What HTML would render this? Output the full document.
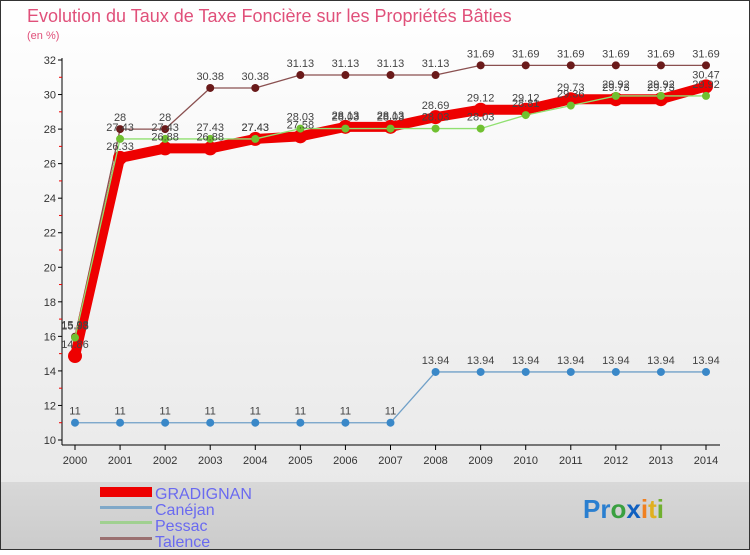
<!DOCTYPE html>
<html><head><meta charset="utf-8"><style>
body{margin:0;width:750px;height:550px;overflow:hidden;font-family:"Liberation Sans",sans-serif}
</style></head><body>
<svg width="750" height="550" id="c" xmlns="http://www.w3.org/2000/svg">
<defs>
<linearGradient id="bg" x1="0" y1="0" x2="0" y2="1"><stop offset="0" stop-color="#ffffff"/><stop offset="1" stop-color="#e6e6e6"/></linearGradient>
<linearGradient id="lg" x1="0" y1="0" x2="0" y2="1"><stop offset="0" stop-color="#d8d8d8"/><stop offset="1" stop-color="#cbcbcb"/></linearGradient>
</defs>
<rect x="0" y="0" width="750" height="550" fill="url(#bg)"/>
<rect x="0" y="482" width="750" height="68" fill="url(#lg)"/>
<rect x="0.5" y="0.5" width="749" height="549" fill="none" stroke="#333"/>
<text x="27" y="22" font-size="18" fill="#e0507a">Evolution du Taux de Taxe Foncière sur les Propriétés Bâties</text>
<text x="27" y="39" font-size="11" fill="#e0507a">(en %)</text>
<g id="axes"></g><g id="series"></g><g id="labels"></g>
<g>
<rect x="100" y="487" width="52" height="10" fill="#e00"/>
<text x="155" y="499" font-size="16" fill="#6a6af0">GRADIGNAN</text>
<rect x="100" y="506" width="52" height="3" fill="#80a8c8"/>
<text x="155" y="515" font-size="16" fill="#6a6af0">Canéjan</text>
<rect x="100" y="521" width="52" height="3" fill="#a0d090"/>
<text x="155" y="531" font-size="16" fill="#6a6af0">Pessac</text>
<rect x="100" y="537" width="52" height="3" fill="#9a7070"/>
<text x="155" y="547" font-size="16" fill="#6a6af0">Talence</text>
</g>
<g font-size="26" font-weight="bold">
<text x="583" y="518"><tspan fill="#2a7fd0">Pr</tspan><tspan fill="#3aa040">o</tspan><tspan fill="#1060c0">x</tspan><tspan fill="#f08020">i</tspan><tspan fill="#e0b020">t</tspan><tspan fill="#70b030">i</tspan></text>
</g>
</svg>
<script>
const years=[2000,2001,2002,2003,2004,2005,2006,2007,2008,2009,2010,2011,2012,2013,2014];
const yTicks=[10,12,14,16,18,20,22,24,26,28,30,32];
const gradignan=[14.86,26.33,26.88,26.88,27.43,27.58,28.13,28.13,28.69,29.12,29.12,29.73,29.73,29.73,30.47];
const canejan=[11,11,11,11,11,11,11,11,13.94,13.94,13.94,13.94,13.94,13.94,13.94];
const pessac=[15.93,27.43,27.43,27.43,27.43,28.03,28.03,28.03,28.03,28.03,28.81,29.36,29.92,29.92,29.92];
const talence=[15.98,28,28,30.38,30.38,31.13,31.13,31.13,31.13,31.69,31.69,31.69,31.69,31.69,31.69];
const NS="http://www.w3.org/2000/svg";
const X=i=>75+(706-75)*(years[i]-years[0])/(years[years.length-1]-years[0]);
const Y=v=>440-(v-10)*(440-60)/(32-10);
function mk(t,a,p){const e=document.createElementNS(NS,t);for(const k in a)e.setAttribute(k,a[k]);p.appendChild(e);return e;}
const ax=document.getElementById('axes'),sg=document.getElementById('series'),lg=document.getElementById('labels');
let l=mk('line',{x1:62,y1:58,x2:62,y2:445,stroke:'#000'},ax);


l=mk('line',{x1:62,y1:445,x2:720,y2:445,stroke:'#000'},ax);


yTicks.forEach(v=>{const t=mk('text',{x:56,y:Y(v)+4,'font-size':11,'text-anchor':'end',fill:'#333'},ax);t.textContent=v;


mk('line',{x1:58,y1:Y(v),x2:62,y2:Y(v),stroke:'#000'},ax);
if(v<32)mk('line',{x1:59,y1:Y(v+1),x2:62,y2:Y(v+1),stroke:'#e00'},ax);});
years.forEach((yr,i)=>{const t=mk('text',{x:X(i),y:464,'font-size':11,'text-anchor':'middle',fill:'#333'},ax);t.textContent=yr;


mk('line',{x1:X(i),y1:445,x2:X(i),y2:450,stroke:'#000'},ax);});
function draw(name,data,color,w,r,dot){
 const p=mk('polyline',{points:data.map((v,i)=>X(i)+','+Y(v)).join(' '),fill:'none',stroke:color,'stroke-width':w,'stroke-linejoin':'round'},sg);
 
 
 data.forEach((v,i)=>{const c=mk('circle',{cx:X(i),cy:Y(v),r:r,fill:dot},sg);
 
 
 const t=mk('text',{x:X(i),y:Y(v)-8,'font-size':11,'text-anchor':'middle',fill:'#444'},lg);t.textContent=(+v.toFixed(2)).toString();
 
 });
}
draw('talence',talence,'#8a5050',1.3,4,'#6a1a1a');
draw('canejan',canejan,'#70a0c8',1.3,4,'#3a88c8');
draw('gradignan',gradignan,'#ee0000',10,7,'#ee0000');
draw('pessac',pessac,'#90e070',1.3,4,'#70c030');
</script>
</body></html>
